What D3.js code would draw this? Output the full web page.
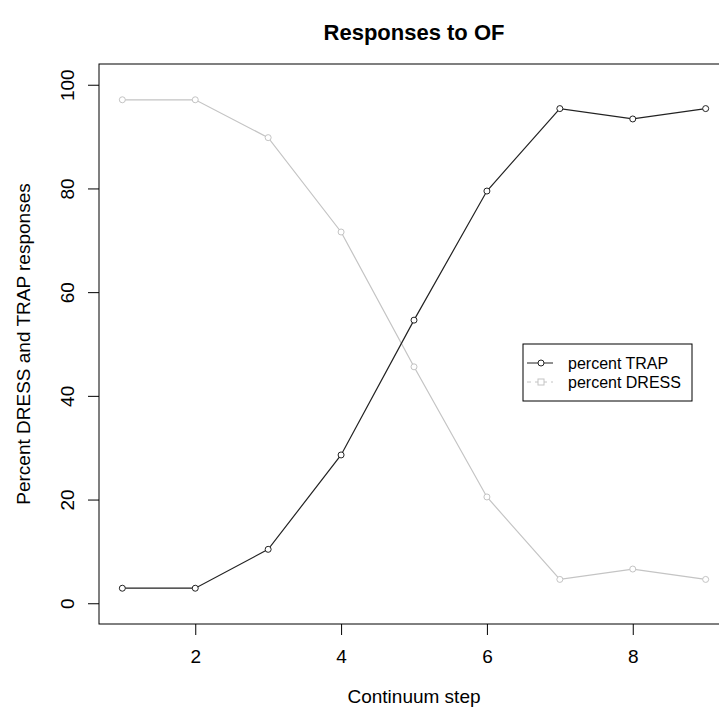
<!DOCTYPE html>
<html>
<head>
<meta charset="utf-8">
<script src="https://cdn.jsdelivr.net/npm/d3@7"></script>
<style>
  body { margin: 0; background: #fff; }
  svg text { font-family: "Liberation Sans", Arial, sans-serif; fill: #000; }
</style>
</head>
<body>
<div id="chart"></div>
<script>
// 連続体のステップ
const steps = [1, 2, 3, 4, 5, 6, 7, 8, 9];
// percent TRAP
const trap = [2.9, 2.9, 10.4, 28.6, 54.6, 79.5, 95.4, 93.4, 95.4];
// percent DRESS
const dress = [97.1, 97.1, 89.8, 71.6, 45.6, 20.5, 4.6, 6.6, 4.6];
const xTicks = [2, 4, 6, 8];
const yTicks = [0, 20, 40, 60, 80, 100];

const W = 719, H = 723;
// プロット領域（右端は画面外にはみ出す）
const margin = {top: 64, left: 99, bottom: 624, right: 729};

const svg = d3.select("#chart").append("svg")
  .attr("width", W).attr("height", H);

// Rの既定と同じく4%の余白を持たせる
const x = d3.scaleLinear().domain([0.68, 9.32]).range([margin.left, margin.right]);
const y = d3.scaleLinear().domain([-4, 104]).range([margin.bottom, margin.top]);

// 枠
svg.append("rect")
  .attr("x", margin.left).attr("y", margin.top)
  .attr("width", margin.right - margin.left)
  .attr("height", margin.bottom - margin.top)
  .attr("fill", "none").attr("stroke", "#000").attr("stroke-width", 1);

// x軸
const xAxis = svg.append("g")
  .attr("transform", "translate(0," + margin.bottom + ")")
  .call(d3.axisBottom(x).tickValues(xTicks).tickSize(11));
xAxis.select(".domain").remove();
xAxis.selectAll("text")
  .style("font-size", "19px")
  .attr("y", 39).attr("dy", null);

// y軸（ラベルは縦書き）
const yAxis = svg.append("g")
  .attr("transform", "translate(" + margin.left + ",0)")
  .call(d3.axisLeft(y).tickValues(yTicks).tickSize(11));
yAxis.select(".domain").remove();
yAxis.selectAll("text")
  .style("font-size", "19px")
  .attr("x", null).attr("dy", null)
  .attr("text-anchor", "middle")
  .attr("transform", "translate(-25,0) rotate(-90)");

const line = d3.line()
  .x((d, i) => x(steps[i]))
  .y(d => y(d));

// DRESS（薄いグレー）
svg.append("path").datum(dress)
  .attr("d", line).attr("fill", "none")
  .attr("stroke", "#c4c4c4").attr("stroke-width", 1.2);
svg.selectAll(".pd").data(dress).enter().append("circle")
  .attr("cx", (d, i) => x(steps[i])).attr("cy", d => y(d)).attr("r", 3)
  .attr("fill", "#fff").attr("stroke", "#c4c4c4");

// TRAP（黒）
svg.append("path").datum(trap)
  .attr("d", line).attr("fill", "none")
  .attr("stroke", "#222").attr("stroke-width", 1.2);
svg.selectAll(".pt").data(trap).enter().append("circle")
  .attr("cx", (d, i) => x(steps[i])).attr("cy", d => y(d)).attr("r", 3)
  .attr("fill", "#fff").attr("stroke", "#222");

// タイトルと軸ラベル
const cx = (margin.left + margin.right) / 2;
svg.append("text").attr("x", cx).attr("y", 40)
  .attr("text-anchor", "middle").style("font-size", "22px").style("font-weight", "bold")
  .text("Responses to OF");
svg.append("text").attr("x", cx).attr("y", 703)
  .attr("text-anchor", "middle").style("font-size", "19px")
  .text("Continuum step");
svg.append("text")
  .attr("transform", "translate(30," + ((margin.top + margin.bottom) / 2) + ") rotate(-90)")
  .attr("text-anchor", "middle").style("font-size", "19px")
  .text("Percent DRESS and TRAP responses");

// 凡例
const lg = svg.append("g").attr("transform", "translate(523,344)");
lg.append("rect").attr("width", 169).attr("height", 57)
  .attr("fill", "#fff").attr("stroke", "#000");
lg.append("line").attr("x1", 4).attr("x2", 30).attr("y1", 19).attr("y2", 19)
  .attr("stroke", "#222");
lg.append("circle").attr("cx", 18).attr("cy", 19).attr("r", 3)
  .attr("fill", "#fff").attr("stroke", "#222");
lg.append("line").attr("x1", 4).attr("x2", 30).attr("y1", 38).attr("y2", 38)
  .attr("stroke", "#c4c4c4").attr("stroke-dasharray", "4,4");
lg.append("rect").attr("x", 15).attr("y", 35).attr("width", 6).attr("height", 6)
  .attr("fill", "#fff").attr("stroke", "#c4c4c4");
lg.append("text").attr("x", 45).attr("y", 25).style("font-size", "16px").text("percent TRAP");
lg.append("text").attr("x", 45).attr("y", 44).style("font-size", "16px").text("percent DRESS");
</script>
</body>
</html>
